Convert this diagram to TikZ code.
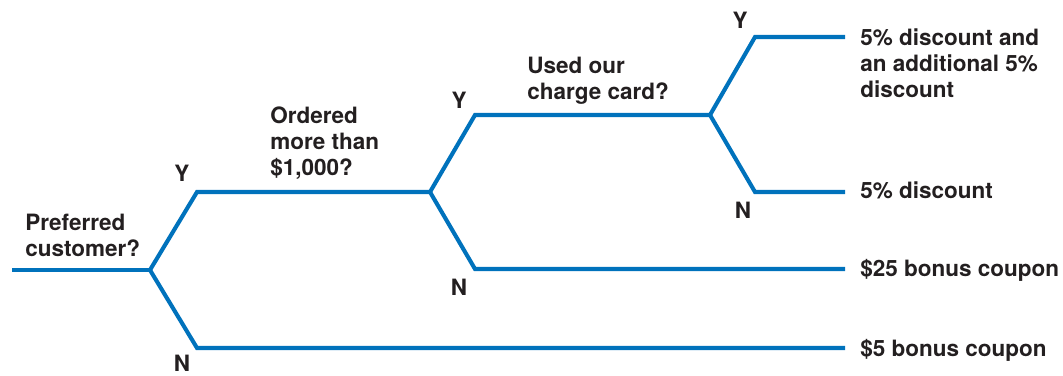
\documentclass[tikz,border=0pt]{standalone}
\usepackage{fontspec}
\setmainfont{TeX Gyre Heros}
\usetikzlibrary{positioning, calc}
\definecolor{treeblue}{HTML}{0072BC}
\definecolor{inkgray}{HTML}{231F20}

\begin{document}
\begin{tikzpicture}[
      x=0.025cm, y=-0.025cm,
      every node/.style={font=\fontsize{16}{18.5}\selectfont\bfseries,
                         text=inkgray, inner sep=0pt},
      question/.style={anchor=west, align=left},
      outcome/.style={anchor=west, align=left},
      answer/.style={anchor=center},
      branch/.style={draw=treeblue, line width=2.9pt, line join=miter},
    ]
    \useasboundingbox (0,0) rectangle (1063,375);

    % branch points and line ends
    \coordinate (root) at (12,270);
    \coordinate (q1)   at (150,270);
    \coordinate (q1y)  at (197,192);
    \coordinate (q1n)  at (197,348);
    \coordinate (q2)   at (430,192);
    \coordinate (q2y)  at (475,115);
    \coordinate (q2n)  at (475,269);
    \coordinate (q3)   at (710,115);
    \coordinate (q3y)  at (755,37);
    \coordinate (q3n)  at (755,192);
    \coordinate (endA) at (845,37);
    \coordinate (endB) at (845,192);
    \coordinate (endC) at (845,269);
    \coordinate (endD) at (845,348);

    % questions
    \node[question] (pref)  at (25,235)  {Preferred\\customer?};
    \node[question] (order) at (270,143) {Ordered\\more than\\\$1,000?};
    \node[question] (card)  at (527,81)  {Used our\\charge card?};

    % outcomes
    \node[outcome] (outA) at (860,63)  {5\% discount and\\an additional 5\%\\discount};
    \node[outcome] (outB) at (860,190) {5\% discount};
    \node[outcome] (outC) at (860,270) {\$25 bonus coupon};
    \node[outcome] (outD) at (860,350) {\$5 bonus coupon};

    % Y / N labels
    \node[answer] (y1) at (182,173) {Y};
    \node[answer] (n1) at (182,363) {N};
    \node[answer] (y2) at (459,100) {Y};
    \node[answer] (n2) at (459,287) {N};
    \node[answer] (y3) at (740,20)  {Y};
    \node[answer] (n3) at (743,210) {N};

    \draw[branch] (root) -- (q1);
    \draw[branch] (q1) -- (q1y) -- (q2);
    \draw[branch] (q1) -- (q1n) -- (endD);
    \draw[branch] (q2) -- (q2y) -- (q3);
    \draw[branch] (q2) -- (q2n) -- (endC);
    \draw[branch] (q3) -- (q3y) -- (endA);
    \draw[branch] (q3) -- (q3n) -- (endB);
  \end{tikzpicture}
\end{document}
